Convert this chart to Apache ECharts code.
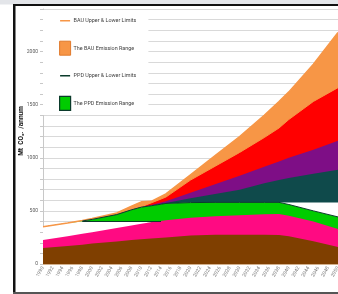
<!DOCTYPE html>
<html><head><meta charset="utf-8">
<script src="https://cdn.jsdelivr.net/npm/echarts@6/dist/echarts.min.js"></script>
<style>html,body{margin:0;padding:0;background:#fff}#c{width:338px;height:294px}</style>
</head><body><div id="c"></div>
<script>
const years     = [1990, 1995, 1998, 2000, 2005, 2008, 2010, 2012, 2015, 2020, 2025, 2030, 2035, 2038, 2040, 2045, 2050];
// Top of each coloured layer (Mt CO2e / annum)
const bauUpper  = [350, 385, 410, 428, 480, 545, 585, 590, 660, 840, 1020, 1200, 1400, 1530, 1620, 1880, 2180];
const bauLower  = [350, 385, 405, 420, 465, 510, 540, 575, 630, 790, 920, 1050, 1190, 1280, 1360, 1530, 1660];
const purpleTop = [350, 385, 405, 420, 465, 510, 535, 555, 590, 670, 750, 830, 915, 965, 1000, 1075, 1160];
const tealTop   = [350, 385, 405, 420, 465, 510, 535, 548, 575, 620, 660, 700, 760, 790, 810, 850, 886];
const gapTop    = [350, 385, 405, 420, 465, 510, 535, 548, 570, 578, 580, 580, 580, 580, 580, 580, 580];
const ppdUpper  = [350, 385, 405, 420, 465, 510, 535, 548, 570, 578, 580, 580, 580, 580, 560, 500, 443];
const ppdLowerFill = [350, 385, 400, 400, 400, 400, 400, 390, 0, 0, 0, 0, 0, 0, 0, 0, 0];
const pinkTop   = [226, 262, 285, 300, 340, 362, 378, 392, 412, 435, 450, 460, 468, 470, 455, 400, 330];
const brownTop  = [150, 170, 182, 192, 212, 225, 232, 240, 250, 268, 275, 275, 275, 273, 262, 215, 160];
// PPD lower limit line
const ppdLowerYears = [1998, 2014];
const ppdLowerVals  = [400, 400];
const yLabelValues = [0, 500, 1000, 1500, 2000];

const C = {orange:'#F79646', red:'#FF0000', purple:'#7E0E86', teal:'#0F4A4B', green:'#00CC00',
           pink:'#FF0A82', brown:'#7F3F00', ppd:'#0B3B2B'};

function pts(vals, ys){ ys = ys || years; return ys.map((y,i)=>[y, vals[i]]); }
function area(name, vals, color){
  return {type:'line', name, data: pts(vals), symbol:'none', silent:true,
    lineStyle:{width:0}, itemStyle:{color}, areaStyle:{color, opacity:1}};
}
function line(name, data, color, w){
  return {type:'line', name, data, symbol:'none', silent:true,
    lineStyle:{width:w, color}, itemStyle:{color}};
}
const bauLowerYears = years.filter(y=>y>=2010);
const bauLowerLine = bauLowerYears.map(y=>[y, bauLower[years.indexOf(y)]]);
const ppdUpperYears = years.filter(y=>y>=1998);
const ppdUpperLine = ppdUpperYears.map(y=>[y, ppdUpper[years.indexOf(y)]]);

// line icon with a 10x14 bounding box so every legend row has the same height
const LINE_ICON = 'path://M0,6.2 L10,6.2 L10,7.8 L0,7.8 Z M0,0 L0.01,0 L0.01,0.01 Z M10,14 L9.99,14 L9.99,13.99 Z';

const chart = echarts.init(document.getElementById('c'), null, {renderer:'canvas'});
const FONT = 'Roboto';
chart.setOption({
  animation:false,
  backgroundColor:'#fff',
  grid:{left:43, right:0, top:9, bottom:30, outerBoundsMode:'none'},
  xAxis:{type:'value', min:1990, max:2050, interval:2,
    axisLine:{show:true, lineStyle:{color:'#d2b08c', width:1}},
    axisTick:{show:false}, splitLine:{show:false},
    axisLabel:{rotate:60, fontSize:5, color:'#808080', margin:3, fontFamily:FONT,
      formatter:v=>String(v)}},
  yAxis:{type:'value', min:0, max:2400, interval:100,
    axisLine:{show:true, lineStyle:{color:'#c8c8c8'}},
    axisTick:{show:true, length:3, lineStyle:{color:'#c8c8c8'}},
    splitLine:{show:true, lineStyle:{color:'#d9d9d9', width:1}},
    axisLabel:{fontSize:5, color:'#595959', margin:5, fontFamily:FONT,
      formatter:v=> yLabelValues.indexOf(v)>=0 ? String(v) : ''}},
  legend:{orient:'vertical', left:43, top:10, padding:[3.7,12,4,16], itemGap:13,
    itemWidth:11, itemHeight:14, backgroundColor:'#fff', selectedMode:false,
    textStyle:{fontSize:5.4, color:'#404040', fontFamily:FONT, padding:[0,0,0,-2]},
    data:[
      {name:'BAU Upper & Lower Limits', icon:LINE_ICON, itemStyle:{color:C.orange, borderWidth:0}},
      {name:'The BAU Emission Range', icon:'rect', itemStyle:{color:C.orange, borderColor:'#E07A2C', borderWidth:1}},
      {name:'PPD Upper & Lower Limits', icon:LINE_ICON, itemStyle:{color:C.ppd, borderWidth:0}},
      {name:'The PPD Emission Range', icon:'rect', itemStyle:{color:C.green, borderColor:'#0B3B2B', borderWidth:1.2}}
    ]},
  graphic:[
    {type:'rect', shape:{x:0,y:0,width:338,height:4.5}, style:{fill:'#e3e5e9'}},
    {type:'rect', shape:{x:13,y:4,width:325,height:2}, style:{fill:'#111'}},
    {type:'rect', shape:{x:13,y:4,width:2.5,height:290}, style:{fill:'#111'}},
    {type:'rect', shape:{x:13,y:292,width:325,height:2}, style:{fill:'#555'}},
    {type:'text', x:21, y:131, rotation:Math.PI/2,
      style:{text:'Mt  CO\u2082\u2091  /annum', font:'bold 6.5px '+FONT, fill:'#111', textAlign:'center', textVerticalAlign:'middle'}}
  ],
  series:[
    area('The BAU Emission Range', bauUpper, C.orange),
    area('bauRed', bauLower, C.red),
    area('purple', purpleTop, C.purple),
    area('teal', tealTop, C.teal),
    area('gap', gapTop, '#ffffff'),
    area('The PPD Emission Range', ppdUpper, C.green),
    area('gap2', ppdLowerFill, '#ffffff'),
    area('pink', pinkTop, C.pink),
    area('brown', brownTop, C.brown),
    line('BAU Upper & Lower Limits', pts(bauUpper), C.orange, 1.5),
    line('BAU Upper & Lower Limits', bauLowerLine, C.orange, 1),
    line('PPD Upper & Lower Limits', ppdUpperLine, C.ppd, 1),
    line('PPD Upper & Lower Limits', pts(ppdLowerVals, ppdLowerYears), C.ppd, 1)
  ]
});
</script></body></html>
